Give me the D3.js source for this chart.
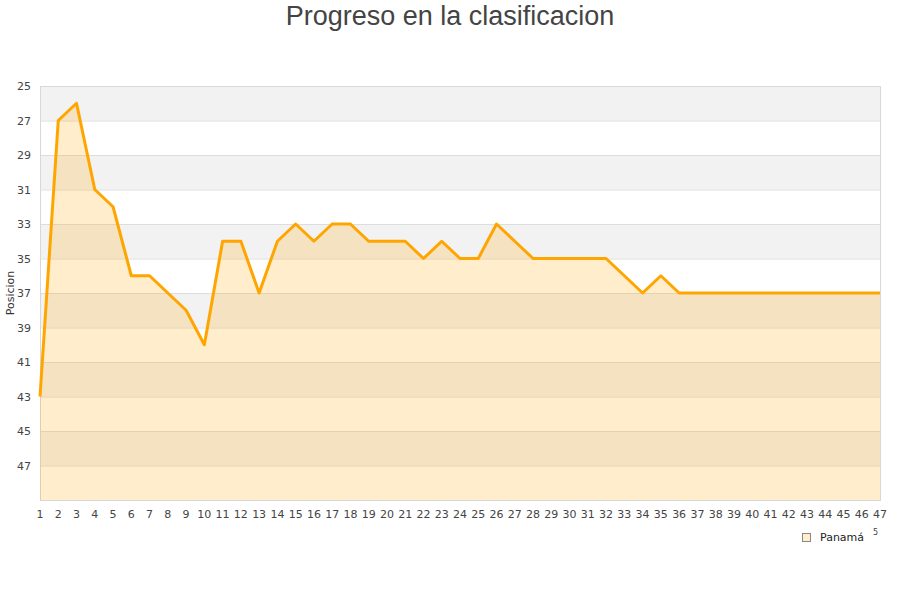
<!DOCTYPE html>
<html>
<head>
<meta charset="utf-8">
<script src="https://cdn.jsdelivr.net/npm/d3@7"></script>
<style>
  html, body { margin: 0; padding: 0; background: #fff; }
  svg { display: block; }
</style>
</head>
<body>
<svg id="chart" width="900" height="600"></svg>
<script>
const title = "Progreso en la clasificacion";
const yTitle = "Posicion";
const seriesName = "Panamá";
const rounds = d3.range(1, 48);
const positions = [43, 27, 26, 31, 32, 36, 36, 37, 38, 40,
                   34, 34, 37, 34, 33, 34, 33, 33, 34, 34,
                   34, 35, 34, 35, 35, 33, 34, 35, 35, 35,
                   35, 35, 36, 37, 36, 37, 37, 37, 37, 37,
                   37, 37, 37, 37, 37, 37, 37];
const yTicks = [25, 27, 29, 31, 33, 35, 37, 39, 41, 43, 45, 47];
const yDomain = [25, 49];

const svg = d3.select("#chart");
const m = { left: 40, right: 880, top: 86, bottom: 500 };

const x = d3.scaleLinear().domain([1, 47]).range([m.left, m.right]);
const y = d3.scaleLinear().domain(yDomain).range([m.top, m.bottom]);

// bands
const bands = d3.range(yDomain[0], yDomain[1], 2);
svg.append("g").selectAll("rect").data(bands).join("rect")
  .attr("x", m.left).attr("width", m.right - m.left)
  .attr("y", d => y(d)).attr("height", d => y(d + 2) - y(d))
  .attr("fill", (d, i) => i % 2 === 0 ? "#f2f2f2" : "#ffffff");

// grid lines
svg.append("g").selectAll("line").data(yTicks).join("line")
  .attr("x1", m.left).attr("x2", m.right)
  .attr("y1", d => y(d) + 0.5).attr("y2", d => y(d) + 0.5)
  .attr("stroke", "#dddddd").attr("stroke-width", 1);

// plot border
svg.append("rect")
  .attr("x", m.left + 0.5).attr("y", m.top + 0.5)
  .attr("width", m.right - m.left).attr("height", m.bottom - m.top)
  .attr("fill", "none").attr("stroke", "#d8d8d8");

const data = rounds.map((r, i) => ({ r, p: positions[i] }));

// area
const area = d3.area().x(d => x(d.r)).y0(y(yDomain[1])).y1(d => y(d.p));
svg.append("path").datum(data)
  .attr("d", area)
  .attr("fill", "#ffa500").attr("fill-opacity", 0.2);

// line
const line = d3.line().x(d => x(d.r)).y(d => y(d.p));
svg.append("path").datum(data)
  .attr("d", line)
  .attr("fill", "none").attr("stroke", "#ffa500")
  .attr("stroke-width", 3).attr("stroke-linejoin", "round");

// y axis labels
svg.append("g").selectAll("text").data(yTicks).join("text")
  .attr("x", 31).attr("y", d => y(d) + 4)
  .attr("text-anchor", "end")
  .attr("font-family", "DejaVu Sans, sans-serif").attr("font-size", 11)
  .attr("fill", "#444").text(d => d);

// x axis labels
svg.append("g").selectAll("text").data(rounds).join("text")
  .attr("x", d => x(d)).attr("y", 518)
  .attr("text-anchor", "middle")
  .attr("font-family", "DejaVu Sans, sans-serif").attr("font-size", 11)
  .attr("fill", "#444").text(d => d);

// y title
svg.append("text")
  .attr("transform", "translate(14,293) rotate(-90)")
  .attr("text-anchor", "middle")
  .attr("font-family", "DejaVu Sans, sans-serif").attr("font-size", 11)
  .attr("fill", "#333").text(yTitle);

// title
svg.append("text")
  .attr("x", 450).attr("y", 25)
  .attr("text-anchor", "middle")
  .attr("font-family", "Liberation Sans, Arial, sans-serif").attr("font-size", 27)
  .attr("fill", "#444").text(title);

// legend
svg.append("rect")
  .attr("x", 802.5).attr("y", 533.5).attr("width", 8).attr("height", 8)
  .attr("fill", "#ffedcc").attr("stroke", "#888");
svg.append("text")
  .attr("x", 820).attr("y", 541)
  .attr("font-family", "DejaVu Sans, sans-serif").attr("font-size", 11)
  .attr("fill", "#222").text(seriesName);
svg.append("text")
  .attr("x", 873).attr("y", 535)
  .attr("font-family", "DejaVu Sans, sans-serif").attr("font-size", 8)
  .attr("fill", "#444").text("5");
</script>
</body>
</html>
